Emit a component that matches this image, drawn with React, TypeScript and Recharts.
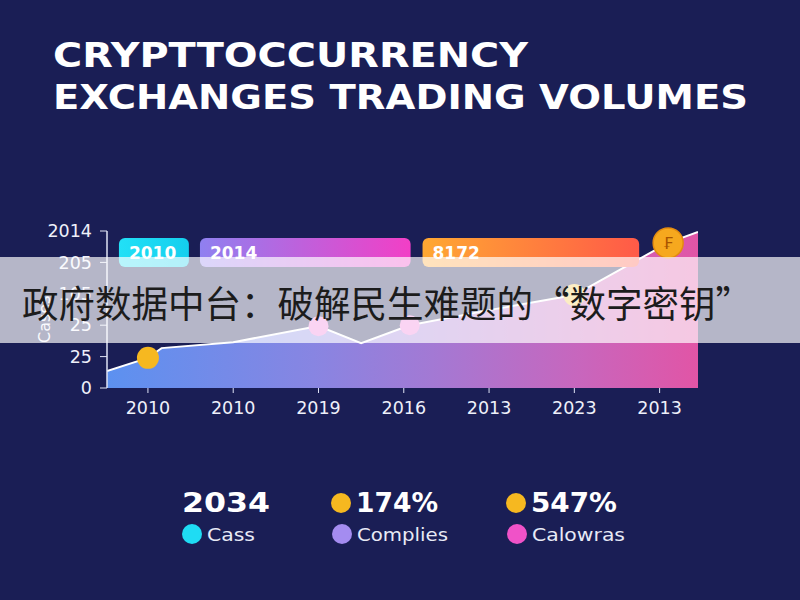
import { ComposedChart, Area, XAxis, YAxis, ReferenceArea } from 'recharts';

// x positions are category indexes (0 = first tick), values are in tick units
const xLabels = ['2010', '2010', '2019', '2016', '2013', '2023', '2013'];
const yLabels = ['0', '25', '25', '105', '205', '2014'];
const pointPos = [-0.48, 0, 0.16, 1, 2, 2.5, 3.07, 4, 5, 6.1, 6.45];
const volumes = [0.54, 0.96, 1.27, 1.46, 1.97, 1.43, 2.0, 2.48, 2.96, 4.62, 4.97];
const markers = [null, 'yellow', null, null, 'pink', null, 'pink', null, 'pale', 'coin', null];

const badgeLabels = ['2010', '2014', '8172'];
const badgeFrom = [-0.34, 0.61, 3.22];
const badgeTo = [0.48, 3.08, 5.76];

const statValues = ['2034', '174%', '547%'];
const statDots = [false, true, true];
const legendNames = ['Cass', 'Complies', 'Calowras'];
const legendColors = ['#1fdcf4', '#a48cf0', '#f052c8'];

const chartData = pointPos.map((x, i) => ({ x, v: volumes[i] }));

const BG = '#1a1e55';
const FONT = '"DejaVu Sans", sans-serif';

const badgeFills = ['url(#badgeCyan)', 'url(#badgePurple)', 'url(#badgeOrange)'];
const statX = [182, 332, 507];
const statLen = [88, 82, 86];
const legendLen = [48, 91, 93];

const renderDot = (p: any) => {
  const m = markers[p.index];
  if (!m) return <g key={p.index} />;
  if (m === 'coin') {
    return (
      <g key={p.index}>
        <circle cx={p.cx} cy={p.cy} r={15} fill="#f6a81e" stroke="#e38b0f" strokeWidth={1.5} />
        <text x={p.cx} y={p.cy + 6} textAnchor="middle" fontSize={16} fill="#a85400" fontFamily={FONT}>₣</text>
      </g>
    );
  }
  const fill = m === 'yellow' ? '#f6b820' : m === 'pink' ? '#f07ad8' : '#f4c84a';
  return <circle key={p.index} cx={p.cx} cy={p.cy} r={m === 'pink' ? 10 : 11} fill={fill} />;
};

export default function App() {
  return (
    <div style={{ position: 'absolute', left: 0, top: 0, width: 800, height: 600, background: BG, overflow: 'hidden' }}>
      <svg width={800} height={130} style={{ position: 'absolute', left: 0, top: 0 }}>
        <text x={53} y={67} fill="#fff" fontSize={33} fontWeight={700} fontFamily={FONT} textLength={475} lengthAdjust="spacingAndGlyphs">
          CRYPTTOCCURRENCY
        </text>
        <text x={53} y={109} fill="#fff" fontSize={33} fontWeight={700} fontFamily={FONT} textLength={695} lengthAdjust="spacingAndGlyphs">
          EXCHANGES TRADING VOLUMES
        </text>
      </svg>

      <div style={{ position: 'absolute', left: 0, top: 0 }}>
        <ComposedChart width={800} height={600} data={chartData} margin={{ top: 231, right: 102, left: 0, bottom: 182 }}>
          <defs>
            <linearGradient id="areaGrad" x1="0" y1="0" x2="1" y2="0">
              <stop offset="0%" stopColor="#5c91f0" />
              <stop offset="35%" stopColor="#8885e2" />
              <stop offset="55%" stopColor="#a379d4" />
              <stop offset="80%" stopColor="#c866bd" />
              <stop offset="100%" stopColor="#e155a6" />
            </linearGradient>
            <linearGradient id="badgeCyan" x1="0" y1="0" x2="1" y2="0">
              <stop offset="0%" stopColor="#22e0f6" />
              <stop offset="100%" stopColor="#14cfee" />
            </linearGradient>
            <linearGradient id="badgePurple" x1="0" y1="0" x2="1" y2="0">
              <stop offset="0%" stopColor="#8f80f0" />
              <stop offset="100%" stopColor="#f23fc6" />
            </linearGradient>
            <linearGradient id="badgeOrange" x1="0" y1="0" x2="1" y2="0">
              <stop offset="0%" stopColor="#ffa832" />
              <stop offset="100%" stopColor="#ff5a48" />
            </linearGradient>
          </defs>
          <XAxis
            dataKey="x"
            type="number"
            domain={[-0.48, 6.45]}
            ticks={[0, 1, 2, 3, 4, 5, 6]}
            tickFormatter={(i: number) => xLabels[i]}
            allowDataOverflow
            axisLine={false}
            tickLine={{ stroke: '#dfe3f5' }}
            tickSize={5}
            tickMargin={9}
            height={30}
            tick={{ fill: '#eef0fa', fontSize: 17.5, fontFamily: FONT }}
            interval={0}
          />
          <YAxis
            type="number"
            domain={[0, 5]}
            ticks={[0, 1, 2, 3, 4, 5]}
            tickFormatter={(i: number) => yLabels[i]}
            width={107}
            axisLine={{ stroke: '#dfe3f5', strokeWidth: 1.5 }}
            tickLine={{ stroke: '#dfe3f5' }}
            tickSize={7}
            tickMargin={8}
            tick={{ fill: '#eef0fa', fontSize: 17.5, fontFamily: FONT }}
            interval={0}
          />
          <Area
            type="linear"
            dataKey="v"
            stroke="#ffffff"
            strokeWidth={2}
            fill="url(#areaGrad)"
            fillOpacity={1}
            dot={renderDot}
            activeDot={false}
            isAnimationActive={false}
          />
          {badgeLabels.map((b, i) => (
            <ReferenceArea
              key={b + i}
              x1={badgeFrom[i]}
              x2={badgeTo[i]}
              y1={3.85}
              y2={4.78}
              fill={badgeFills[i]}
              fillOpacity={1}
              ifOverflow="visible"
              shape={(p: any) => <rect x={p.x} y={p.y} width={p.width} height={p.height} rx={6} fill={badgeFills[i]} />}
              label={{ value: b, position: 'insideLeft', offset: 10, fill: '#ffffff', fontSize: 17, fontWeight: 700, fontFamily: FONT }}
            />
          ))}
        </ComposedChart>
      </div>

      <svg width={60} height={100} style={{ position: 'absolute', left: 0, top: 260 }}>
        <text x={0} y={0} transform="translate(50 83) rotate(-90)" textAnchor="start" fill="#eef0fa" fontSize={16} fontFamily={FONT}>
          Cases
        </text>
      </svg>

      <div style={{ position: 'absolute', left: 0, top: 257, width: 800, height: 86, background: 'rgba(255,255,255,0.68)' }}>
        <svg width={800} height={86}>
          <text x={22} y={61} fill="#1c1c1c" fontSize={37} fontFamily='"Noto Sans CJK SC", sans-serif' textLength={730} lengthAdjust="spacingAndGlyphs">
            政府数据中台：破解民生难题的“数字密钥”
          </text>
        </svg>
      </div>

      <svg width={800} height={100} style={{ position: 'absolute', left: 0, top: 470 }}>
        {statValues.map((s, i) => (
          <g key={s}>
            {statDots[i] && <circle cx={statX[i] + 9} cy={33} r={10} fill="#f6b820" />}
            <text
              x={statDots[i] ? statX[i] + 24 : statX[i]}
              y={42}
              fill="#ffffff"
              fontSize={26}
              fontWeight={700}
              fontFamily={FONT}
              textLength={statLen[i]}
              lengthAdjust="spacingAndGlyphs"
            >
              {s}
            </text>
            <circle cx={statX[i] + 10} cy={64} r={10} fill={legendColors[i]} />
            <text
              x={statX[i] + 25}
              y={71}
              fill="#e8eaf6"
              fontSize={17}
              fontFamily={FONT}
              textLength={legendLen[i]}
              lengthAdjust="spacingAndGlyphs"
            >
              {legendNames[i]}
            </text>
          </g>
        ))}
      </svg>
    </div>
  );
}
